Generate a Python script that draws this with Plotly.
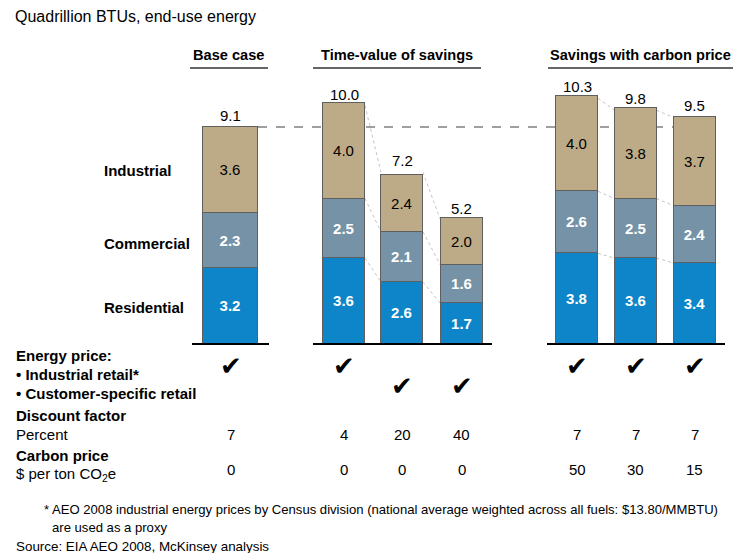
import plotly.graph_objects as go

# ---------------- data ----------------
scenarios = ["Base case", "TV 4%", "TV 20%", "TV 40%", "CP 50", "CP 30", "CP 15"]
residential = [3.2, 3.6, 2.6, 1.7, 3.8, 3.6, 3.4]
commercial = [2.3, 2.5, 2.1, 1.6, 2.6, 2.5, 2.4]
industrial = [3.6, 4.0, 2.4, 2.0, 4.0, 3.8, 3.7]
totals = [9.1, 10.0, 7.2, 5.2, 10.3, 9.8, 9.5]
industrial_retail = [True, True, False, False, True, True, True]
customer_retail = [False, False, True, True, False, False, False]
discount_pct = ["7", "4", "20", "40", "7", "7", "7"]
carbon_price = ["0", "0", "0", "0", "50", "30", "15"]
base_level = 9.1

# ---------------- layout helpers ----------------
OFF = 8                 # page body margin of the html page
VW, VH = 741, 553       # browser window
W, H = VW - OFF, VH - OFF
Y0_PX = 344.0           # window pixel row of value 0
PX_PER_UNIT = 23.85
x_pos = [230.5, 344, 402, 461.5, 577, 635.5, 694.5]
x_wid = [55, 42, 42, 42, 42, 42, 42]

def py(v):  # window pixel row -> paper
    return 1 - (v - OFF) / H

def pxx(v):  # window pixel col -> paper
    return (v - OFF) / W

FONT = "Liberation Sans, Arial, Helvetica, sans-serif"
C_IND = "#BCAB86"
C_COM = "#7692A6"
C_RES = "#0D85C8"
EDGE = "#5f5f5f"

fig = go.Figure()
for name, vals, col, tcol, tw in [
    ("Residential", residential, C_RES, "white", "bold"),
    ("Commercial", commercial, C_COM, "white", "bold"),
    ("Industrial", industrial, C_IND, "black", "normal"),
]:
    fig.add_trace(go.Bar(
        x=x_pos, y=vals, width=x_wid, name=name,
        marker=dict(color=col, line=dict(color=EDGE, width=1)),
        text=[f"{v:.1f}" for v in vals], textposition="inside",
        insidetextanchor="middle", textangle=0,
        textfont=dict(family=FONT, size=15, color=tcol, weight=tw),
        hoverinfo="skip", showlegend=False,
    ))

ann = []
# totals
for x, t in zip(x_pos, totals):
    ann.append(dict(xref="x", yref="y", x=x, y=t, text=f"{t:.1f}", showarrow=False,
                    yanchor="bottom", yshift=1,
                    font=dict(family=FONT, size=15, color="black")))

shapes = []
# dashed base line
shapes.append(dict(type="line", xref="x", yref="y", x0=x_pos[0] + x_wid[0] / 2, x1=x_pos[6] - x_wid[6] / 2,
                   y0=base_level, y1=base_level, layer="below",
                   line=dict(color="#808080", width=1.5, dash="dash")))
# connectors
for a, b in [(1, 2), (2, 3), (4, 5), (5, 6)]:
    la = [residential[a], residential[a] + commercial[a], totals[a]]
    lb = [residential[b], residential[b] + commercial[b], totals[b]]
    for ya, yb in zip(la, lb):
        shapes.append(dict(type="line", xref="x", yref="y",
                           x0=x_pos[a] + x_wid[a] / 2, x1=x_pos[b] - x_wid[b] / 2,
                           y0=ya, y1=yb, layer="below",
                           line=dict(color="#b4b4b4", width=0.8, dash="dot")))
# baselines
for x0, x1 in [(192, 269), (313, 492), (547, 725)]:
    shapes.append(dict(type="line", xref="x", yref="y", x0=x0, x1=x1, y0=0, y1=0,
                       line=dict(color="black", width=2)))
# header underlines
for x0, x1 in [(190, 268), (313, 481), (548, 741)]:
    shapes.append(dict(type="line", xref="paper", yref="paper", x0=pxx(x0), x1=pxx(x1),
                       y0=py(68), y1=py(68), line=dict(color="#333333", width=1.5)))

def txt(x, y, s, size=15, bold=False, xanchor="left", color="black"):
    ann.append(dict(xref="paper", yref="paper", x=pxx(x), y=py(y), text=s, showarrow=False,
                    xanchor=xanchor, yanchor="middle",
                    font=dict(family=FONT, size=size, color=color, weight="bold" if bold else "normal")))

txt(13, 17, "Quadrillion BTUs, end-use energy", size=16)
txt(228, 55, "Base case", size=14.6, bold=True, xanchor="center")
txt(397, 55, "Time-value of savings", size=14.6, bold=True, xanchor="center")
txt(548, 55, "Savings with carbon price", size=14.6, bold=True)

txt(102, 170, "Industrial", bold=True)
txt(102, 243, "Commercial", bold=True)
txt(102, 307, "Residential", bold=True)

txt(14, 355, "Energy price:", bold=True)
txt(14, 374, "• Industrial retail*", bold=True)
txt(14, 393, "• Customer-specific retail", bold=True)
txt(14, 415, "Discount factor", bold=True)
txt(14, 434, "Percent")
txt(14, 455, "Carbon price", bold=True)
txt(14, 474, "$ per ton CO<sub>2</sub>e")

for x, ir, cr, d, c in zip(x_pos, industrial_retail, customer_retail, discount_pct, carbon_price):
    if ir:
        txt(x, 366, "✔", size=26, xanchor="center")
    if cr:
        txt(x, 386, "✔", size=26, xanchor="center")
    txt(x, 434, d, xanchor="center")
    txt(x, 469, c, xanchor="center")

txt(42, 509, "* AEO 2008 industrial energy prices by Census division (national average weighted across all fuels: $13.80/MMBTU)", size=13.1)
txt(50, 527, "are used as a proxy", size=13.1)
txt(14, 546, "Source: EIA AEO 2008, McKinsey analysis", size=13.4)

fig.update_layout(
    width=W, height=H, margin=dict(l=0, r=0, t=0, b=0),
    paper_bgcolor="white", plot_bgcolor="white",
    barmode="stack", bargap=0,
    xaxis=dict(range=[OFF, VW], visible=False, fixedrange=True),
    yaxis=dict(range=[-(VH - Y0_PX) / PX_PER_UNIT, (Y0_PX - OFF) / PX_PER_UNIT], visible=False, fixedrange=True),
    uniformtext=dict(mode=False),
)
fig.layout.shapes = shapes
fig.layout.annotations = ann
fig.write_html("out.html", config={"displayModeBar": False})
